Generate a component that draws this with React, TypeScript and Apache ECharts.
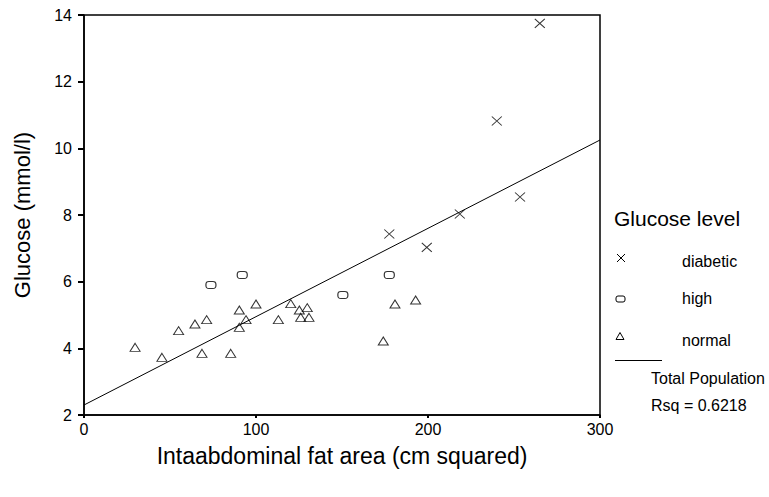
import React, { useEffect, useRef } from "react";
import * as echarts from "echarts";

// Data
const diabeticX = [265, 240, 253.5, 218.5, 177.5, 199.3];
const diabeticY = [13.75, 10.82, 8.54, 8.03, 7.43, 7.03];

const highX = [73.8, 92, 177.5, 150.5];
const highY = [5.9, 6.2, 6.2, 5.6];

const normalX = [29.7, 45.3, 55, 64.5, 68.6, 71.3, 85.3, 90.3, 90.3, 94.2, 100, 113, 120.2, 125.2, 126, 129.8, 130.8, 174, 180.8, 192.8];
const normalY = [4.03, 3.73, 4.53, 4.73, 3.85, 4.86, 3.85, 5.15, 4.63, 4.86, 5.33, 4.86, 5.34, 5.15, 4.93, 5.22, 4.93, 4.22, 5.33, 5.45];

const regIntercept = 2.3;
const regSlope = 0.0265;
const xRange = [0, 300];

const rsqText = "Rsq = 0.6218";

const FONT = '"Liberation Sans", Arial, sans-serif';

const CROSS = "path://M0,0L10,10M10,0L0,10";
const ROUNDED = "path://M3,0L7,0Q10,0 10,3L10,4Q10,7 7,7L3,7Q0,7 0,4L0,3Q0,0 3,0Z";

const zip = (xs: number[], ys: number[]) => xs.map((x, i) => [x, ys[i]]);

export default function App() {
  const ref = useRef<HTMLDivElement>(null);

  useEffect(() => {
    document.body.style.margin = "0";
    const chart = echarts.init(ref.current!, undefined, { renderer: "svg" });
    const hollow = {
      color: "rgba(0,0,0,0)",
      borderColor: "#000",
      borderWidth: 1,
    };
    const txt = (text: string, x: number, y: number, size: number) => ({
      type: "text",
      x,
      y,
      style: {
        text,
        fill: "#000",
        fontSize: size,
        fontFamily: FONT,
        textVerticalAlign: "middle",
        verticalAlign: "middle",
      },
    });
    const ln = (x1: number, y1: number, x2: number, y2: number) => ({
      type: "line",
      shape: { x1, y1, x2, y2 },
      style: { stroke: "#000", lineWidth: 1 },
    });

    chart.setOption({
      animation: false,
      backgroundColor: "#fff",
      textStyle: { fontFamily: FONT, color: "#000" },
      grid: {
        left: 84,
        right: 169,
        top: 15,
        bottom: 82,
        show: true,
        borderColor: "#000",
        borderWidth: 1.5,
        backgroundColor: "rgba(0,0,0,0)",
      },
      xAxis: {
        type: "value",
        min: xRange[0],
        max: xRange[1],
        interval: 100,
        name: "Intaabdominal fat area (cm squared)",
        nameLocation: "middle",
        nameGap: 29,
        nameTextStyle: { fontSize: 23, fontFamily: FONT, color: "#000" },
        axisLine: { lineStyle: { color: "#000", width: 1.5 } },
        axisTick: { length: 3, lineStyle: { color: "#000", width: 2 } },
        axisLabel: { fontSize: 16, color: "#000", fontFamily: FONT, margin: 6 },
        splitLine: { show: false },
      },
      yAxis: {
        type: "value",
        min: 2,
        max: 14,
        interval: 2,
        name: "Glucose (mmol/l)",
        nameLocation: "middle",
        nameGap: 51,
        nameTextStyle: { fontSize: 22, fontFamily: FONT, color: "#000" },
        axisLine: { lineStyle: { color: "#000", width: 1.5 } },
        axisTick: { length: 6, lineStyle: { color: "#000", width: 2 } },
        axisLabel: { fontSize: 16, color: "#000", fontFamily: FONT, margin: 12 },
        splitLine: { show: false },
      },
      series: [
        {
          name: "diabetic",
          type: "scatter",
          symbol: CROSS,
          symbolSize: [10, 9],
          itemStyle: hollow,
          data: zip(diabeticX, diabeticY),
        },
        {
          name: "high",
          type: "scatter",
          symbol: ROUNDED,
          symbolSize: [10, 7],
          itemStyle: hollow,
          data: zip(highX, highY),
        },
        {
          name: "normal",
          type: "scatter",
          symbol: "triangle",
          symbolSize: [10, 8],
          itemStyle: hollow,
          data: zip(normalX, normalY),
        },
        {
          name: "Total Population",
          type: "line",
          symbol: "none",
          lineStyle: { color: "#000", width: 1 },
          data: xRange.map((x) => [x, regIntercept + regSlope * x]),
        },
      ],
      graphic: [
        txt("Glucose level", 614, 218, 21),
        ln(617, 254, 625, 262),
        ln(625, 254, 617, 262),
        txt("diabetic", 682, 261, 16),
        {
          type: "rect",
          shape: { x: 616, y: 296, width: 9, height: 6, r: 2 },
          style: { fill: "rgba(0,0,0,0)", stroke: "#000", lineWidth: 1 },
        },
        txt("high", 682, 298, 16),
        {
          type: "polygon",
          shape: { points: [[620, 332.5], [616, 339.5], [624, 339.5]] },
          style: { fill: "rgba(0,0,0,0)", stroke: "#000", lineWidth: 1 },
        },
        txt("normal", 682, 340, 16),
        ln(615, 360.5, 662, 360.5),
        txt("Total Population", 651, 378, 16),
        txt(rsqText, 651, 405, 16),
      ],
    });
    return () => chart.dispose();
  }, []);

  return (
    <div
      ref={ref}
      style={{ position: "absolute", left: 0, top: 0, width: 769, height: 497 }}
    />
  );
}
